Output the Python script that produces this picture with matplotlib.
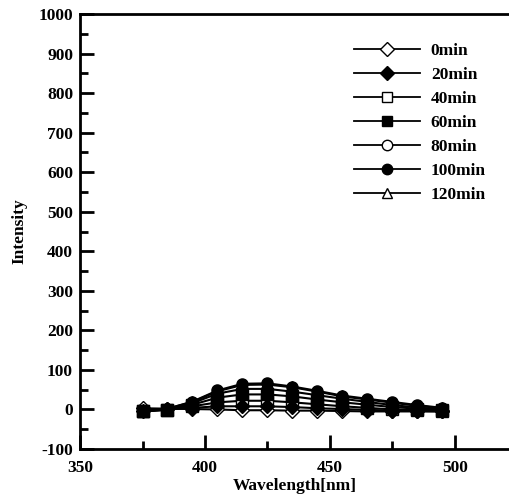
import matplotlib
matplotlib.use("Agg")
import matplotlib.pyplot as plt
from matplotlib.ticker import MultipleLocator

plt.rcParams['font.family'] = ['Liberation Serif', 'DejaVu Serif']
plt.rcParams['font.weight'] = 'bold'
plt.rcParams['axes.unicode_minus'] = False

wavelength = [375, 385, 395, 405, 415, 425, 435, 445, 455, 465, 475, 485, 495]
labels = ['0min', '20min', '40min', '60min', '80min', '100min', '120min']
s0 = [3, 2, 1, 0, -2, -2, -3, -3, -4, -5, -5, -5, -5]
s20 = [-3, 0, 4, 8, 8, 8, 6, 3, 1, -1, -3, -4, -5]
s40 = [-4, -1, 8, 18, 22, 22, 18, 13, 8, 4, 0, -2, -4]
s60 = [-5, -1, 12, 30, 38, 38, 33, 25, 18, 12, 6, 2, -2]
s80 = [-5, 0, 16, 40, 52, 52, 45, 36, 27, 19, 11, 5, 0]
s100 = [-5, 2, 20, 48, 65, 66, 58, 47, 35, 27, 19, 11, 4]
s120 = [-5, 2, 19, 46, 62, 63, 56, 45, 33, 25, 17, 9, 3]
series = [s0, s20, s40, s60, s80, s100, s120]

styles = [('D', 'white'), ('D', 'black'), ('s', 'white'), ('s', 'black'),
          ('o', 'white'), ('o', 'black'), ('^', 'white')]
zorders = [3, 5, 2.5, 6, 2.2, 7, 2.1]

fig = plt.figure(figsize=(5.10, 4.97), dpi=100)
ax = fig.add_axes([80/510, 1-449/497, 1-80/510, (449-14)/497])

for lab, vals, (m, fc), z in zip(labels, series, styles, zorders):
    ms = 7 if m == 'D' else 8
    ax.plot(wavelength, vals, color='black', lw=1.5, marker=m, markersize=ms,
            markerfacecolor=fc, markeredgecolor='black', markeredgewidth=1.0,
            label=lab, zorder=z)

ax.set_xlim(350, 522)
ax.set_ylim(-100, 1000)
ax.xaxis.set_major_locator(MultipleLocator(50))
ax.xaxis.set_minor_locator(MultipleLocator(25))
ax.yaxis.set_major_locator(MultipleLocator(100))
ax.yaxis.set_minor_locator(MultipleLocator(50))
ax.tick_params(which='both', direction='in', width=2, labelsize=12.5)
ax.tick_params(which='major', length=10, pad=5)
ax.tick_params(which='minor', length=5.5)
ax.tick_params(axis='x', top=False, which='both')
ax.tick_params(axis='x', which='major', pad=8)
for sp in ['left', 'bottom', 'top']:
    ax.spines[sp].set_linewidth(2)
ax.spines['right'].set_visible(False)
for t in ax.get_xticklabels() + ax.get_yticklabels():
    t.set_fontweight('bold')

ax.set_xlabel('Wavelength[nm]', fontsize=12.5, fontweight='bold', labelpad=1)
ax.set_ylabel('Intensity', fontsize=12.5, fontweight='bold', labelpad=8)

handles, labs = ax.get_legend_handles_labels()
leg = ax.legend(handles, labs, loc='upper left', bbox_to_anchor=(0.61, 0.962),
                frameon=False, handlelength=3.8, handletextpad=0.6,
                labelspacing=0.45, borderaxespad=0.3,
                prop={'family': 'Liberation Serif', 'weight': 'bold', 'size': 12.5})
for h in leg.legend_handles:
    h.set_linewidth(1.3)
    h.set_markersize(7.5)

fig.savefig('out.png', dpi=100)
